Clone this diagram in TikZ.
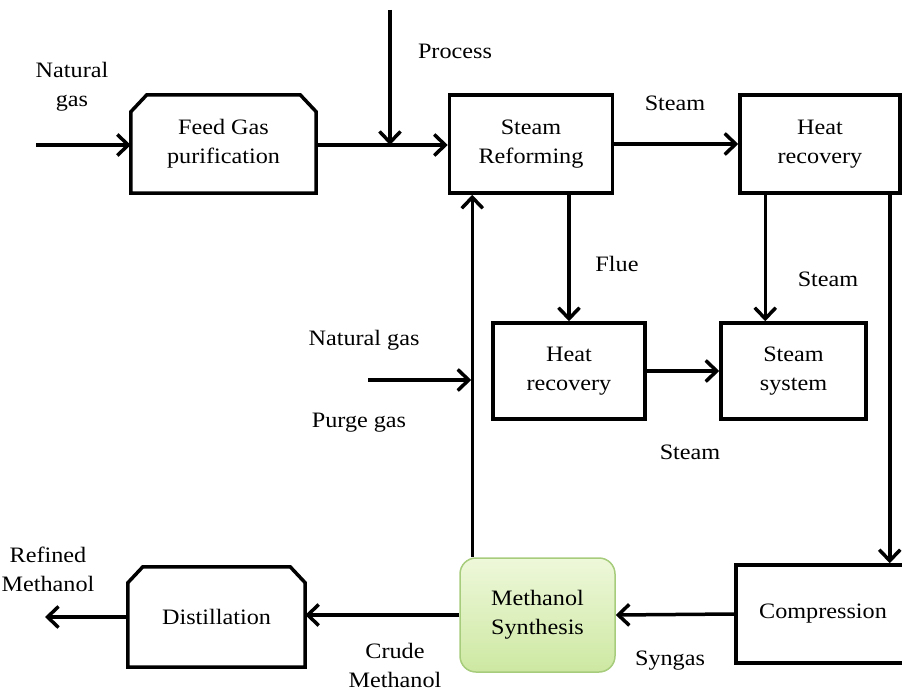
\documentclass[tikz,border=0pt]{standalone}
\usepackage{fontspec}
\setmainfont{Liberation Serif}[FakeStretch=1.1]
\usetikzlibrary{arrows.meta,calc}
\definecolor{msfillA}{HTML}{EEF8DA}
\definecolor{msfillB}{HTML}{CDE8A2}
\definecolor{msborder}{HTML}{A6CC7C}
\tikzset{
  txt/.style={font=\fontsize{22}{29}\selectfont, align=center, inner sep=0pt},
  blk/.style={txt, draw, line width=3.5pt, minimum width=#1},
  flow/.style={line width=3.5pt, -{Straight Barb[length=11pt,width=21pt]}},
  plain/.style={line width=3.5pt},
}
\begin{document}
\begin{tikzpicture}[x=1pt,y=-1pt]
\useasboundingbox (0,0) rectangle (902,695);
% chamfered blocks
\node[txt, minimum width=185pt, minimum height=98pt] (feed) at (223.5,144) {Feed Gas\\purification};
\draw[plain, line join=miter] (feed.south west) -- ([yshift=-17pt]feed.north west) -- ([xshift=16pt]feed.north west) -- ([xshift=-16pt]feed.north east) -- ([yshift=-17pt]feed.north east) -- (feed.south east) -- cycle;
\node[txt, minimum width=177pt, minimum height=100pt] (dist) at (216.5,617) {Distillation};
\draw[plain, line join=miter] (dist.south west) -- ([yshift=-16pt]dist.north west) -- ([xshift=15pt]dist.north west) -- ([xshift=-15pt]dist.north east) -- ([yshift=-16pt]dist.north east) -- (dist.south east) -- cycle;
% plain blocks
\node[blk=163pt, minimum height=98pt] (sr) at (531,144) {Steam\\Reforming};
\node[blk=160pt, minimum height=98pt] (hr1) at (820,144) {Heat\\recovery};
\node[blk=152pt, minimum height=96pt] (hr2) at (569,371) {Heat\\recovery};
\node[blk=145pt, minimum height=96pt] (ss) at (793.5,371) {Steam\\system};
\node[blk=174pt, minimum height=98pt] (comp) at (823,614) {Compression};
\node[txt, minimum width=155pt, minimum height=114pt, rounded corners=16pt, draw=msborder, line width=1.5pt, top color=msfillA, bottom color=msfillB] (ms) at (537.5,615) {Methanol\\Synthesis};
% labels
\node[txt] (lng1) at (72,87) {Natural\\gas};
\node[txt] (lproc) at (455,51) {Process};
\node[txt] (lst1) at (675,103) {Steam};
\node[txt] (lflue) at (617,264) {Flue};
\node[txt] (lst2) at (828,279) {Steam};
\node[txt] (lng2) at (364,340) {Natural gas};
\node[txt] (lpg) at (359,423) {Purge gas};
\node[txt] (lst3) at (690,452) {Steam};
\node[txt] (lref) at (48,569) {Refined\\Methanol};
\node[txt] (lcrude) at (395,665) {Crude\\Methanol};
\node[txt] (lsyn) at (670,661) {Syngas};
% free ends
\coordinate (ngin) at (36,145);
\coordinate (procin) at (390,10);
\coordinate (procjoin) at (390,145);
\coordinate (ng2in) at (368,380);
\coordinate (refout) at (45,617);
% connectors
\draw[flow] (ngin) -- (ngin -| feed.west);
\draw[flow] (feed.east |- ngin) -- (sr.west |- ngin);
\draw[flow] (procin) -- (procjoin);
\draw[flow] (sr.east) -- (hr1.west);
\draw[flow] (hr2.north |- sr.south) -- (hr2.north);
\draw[flow] ([xshift=27pt]hr1.south west) -- ([xshift=27pt]hr1.south west |- ss.north);
\draw[flow] (hr2.east) -- (ss.west);
\draw[flow] ([xshift=-12pt]hr1.south east) -- ([xshift=-12pt]hr1.south east |- comp.north);
\draw[flow] (comp.west) -- (ms.east);
\draw[flow] (ms.west) -- (ms.west -| dist.east);
\draw[flow] (dist.west |- refout) -- (refout);
\draw[flow] ([xshift=13pt]ms.north west) -- ([xshift=13pt]ms.north west |- sr.south);
\draw[flow] (ng2in) -- ([xshift=12pt]ng2in -| ms.north west);
\end{tikzpicture}
\end{document}
